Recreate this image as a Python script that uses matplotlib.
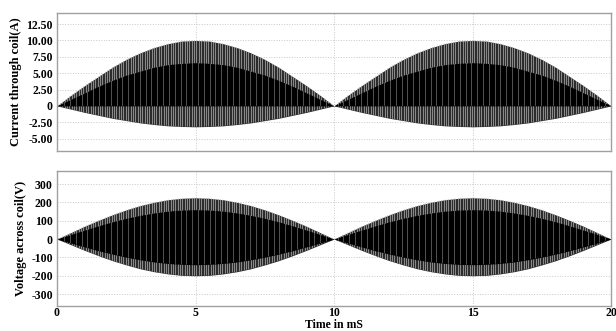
import numpy as np
import matplotlib
matplotlib.use("Agg")
import matplotlib.pyplot as plt

# ---- data, time in ms, step 0.5 ms ----
time_ms = [i * 0.5 for i in range(41)]

cur_outer_hi = [0, 1.6, 3.1, 4.5, 5.9, 7.1, 8.1, 8.9, 9.5, 9.9, 10.0, 9.9, 9.5, 8.9, 8.1, 7.1, 5.9, 4.5, 3.1, 1.6, 0,
                1.6, 3.1, 4.5, 5.9, 7.1, 8.1, 8.9, 9.5, 9.9, 10.0, 9.9, 9.5, 8.9, 8.1, 7.1, 5.9, 4.5, 3.1, 1.6, 0]
cur_inner_hi = [0, 1.0, 2.0, 3.0, 3.9, 4.7, 5.3, 5.9, 6.3, 6.5, 6.6, 6.5, 6.3, 5.9, 5.3, 4.7, 3.9, 3.0, 2.0, 1.0, 0,
                1.0, 2.0, 3.0, 3.9, 4.7, 5.3, 5.9, 6.3, 6.5, 6.6, 6.5, 6.3, 5.9, 5.3, 4.7, 3.9, 3.0, 2.0, 1.0, 0]
cur_inner_lo = [0.0] * 41
cur_outer_lo = [0, -0.5, -1.0, -1.45, -1.9, -2.25, -2.6, -2.85, -3.05, -3.15, -3.2, -3.15, -3.05, -2.85, -2.6, -2.25, -1.9, -1.45, -1.0, -0.5, 0,
                -0.5, -1.0, -1.45, -1.9, -2.25, -2.6, -2.85, -3.05, -3.15, -3.2, -3.15, -3.05, -2.85, -2.6, -2.25, -1.9, -1.45, -1.0, -0.5, 0]

volt_outer_hi = [0, 35, 70, 102, 132, 159, 182, 200, 214, 222, 225, 222, 214, 200, 182, 159, 132, 102, 70, 35, 0,
                 35, 70, 102, 132, 159, 182, 200, 214, 222, 225, 222, 214, 200, 182, 159, 132, 102, 70, 35, 0]
volt_inner_hi = [0, 25, 49, 72, 94, 113, 129, 142, 152, 158, 160, 158, 152, 142, 129, 113, 94, 72, 49, 25, 0,
                 25, 49, 72, 94, 113, 129, 142, 152, 158, 160, 158, 152, 142, 129, 113, 94, 72, 49, 25, 0]
volt_inner_lo = [0, -22, -43, -64, -82, -99, -113, -125, -133, -138, -140, -138, -133, -125, -113, -99, -82, -64, -43, -22, 0,
                 -22, -43, -64, -82, -99, -113, -125, -133, -138, -140, -138, -133, -125, -113, -99, -82, -64, -43, -22, 0]
volt_outer_lo = [0, -31, -62, -91, -118, -141, -162, -178, -190, -198, -200, -198, -190, -178, -162, -141, -118, -91, -62, -31, 0,
                 -31, -62, -91, -118, -141, -162, -178, -190, -198, -200, -198, -190, -178, -162, -141, -118, -91, -62, -31, 0]

cur_ticks = [12.5, 10.0, 7.5, 5.0, 2.5, 0, -2.5, -5.0]
cur_ticklabels = ["12.50", "10.00", "7.50", "5.00", "2.50", "0", "-2.50", "-5.00"]
volt_ticks = [300, 200, 100, 0, -100, -200, -300]
volt_ticklabels = ["300", "200", "100", "0", "-100", "-200", "-300"]
x_ticks = [0, 5, 10, 15, 20]

plt.rcParams['font.family'] = ['Liberation Serif', 'DejaVu Serif']
plt.rcParams['font.weight'] = 'bold'

fig = plt.figure(figsize=(6.16, 3.31), dpi=100)
W, H = 616, 331
ax1 = fig.add_axes([57 / W, 1 - 151 / H, 554 / W, 138 / H])
ax2 = fig.add_axes([57 / W, 1 - 306 / H, 554 / W, 135 / H])

stripe_x_outer = np.arange(0.02, 20, 0.085)
stripe_x_inner = np.arange(0.05, 20, 0.21)


def draw_panel(ax, ohi, ihi, ilo, olo, ylim):
    outer = ax.fill_between(time_ms, olo, ohi, color='#2c2c2c', lw=0, zorder=2)
    v1 = ax.vlines(stripe_x_outer, ylim[0], ylim[1], colors='#a6a6a6', lw=0.55, zorder=3)
    v1.set_clip_path(outer.get_paths()[0], ax.transData)
    inner = ax.fill_between(time_ms, ilo, ihi, color='black', lw=0, zorder=4)
    v2 = ax.vlines(stripe_x_inner, ylim[0], ylim[1], colors='#808080', lw=0.45, zorder=5)
    v2.set_clip_path(inner.get_paths()[0], ax.transData)
    ax.set_xlim(0, 20)
    ax.set_ylim(*ylim)
    ax.set_xticks(x_ticks)
    ax.grid(True, color='#c8c8c8', ls=':', lw=0.7, zorder=0)
    ax.set_axisbelow(True)
    for s in ax.spines.values():
        s.set_color('#a0a0a0')
        s.set_linewidth(1.0)
    ax.tick_params(length=0, labelsize=8.5, pad=3)


draw_panel(ax1, cur_outer_hi, cur_inner_hi, cur_inner_lo, cur_outer_lo, (-6.9, 14.2))
ax1.set_yticks(cur_ticks)
ax1.set_yticklabels(cur_ticklabels, fontweight='bold')
ax1.set_xticklabels([])
ax1.set_ylabel("Current through coil(A)", fontsize=9, fontweight='bold', labelpad=3)

draw_panel(ax2, volt_outer_hi, volt_inner_hi, volt_inner_lo, volt_outer_lo, (-365, 371))
ax2.set_yticks(volt_ticks)
ax2.set_yticklabels(volt_ticklabels, fontweight='bold')
ax2.set_xticklabels([str(v) for v in x_ticks], fontweight='bold')
ax2.tick_params(axis='x', pad=0.5)
ax2.set_ylabel("Voltage across coil(V)", fontsize=9, fontweight='bold', labelpad=3)
fig.text(334 / W, 0.5 / H, "Time in mS", fontsize=8.5, fontweight='bold',
         ha='center', va='bottom')

fig.savefig("out.png", dpi=100)
